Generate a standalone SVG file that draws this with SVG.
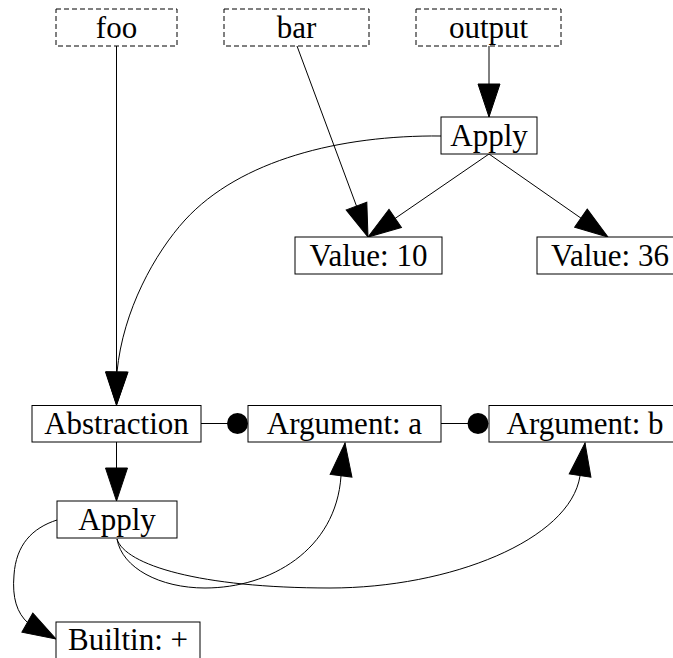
<svg xmlns="http://www.w3.org/2000/svg" width="673" height="658" viewBox="0 0 673 658">
<style>
  .box { fill: #fff; stroke: #000; stroke-width: 1; }
  .dash { fill: #fff; stroke: #000; stroke-width: 1; stroke-dasharray: 5,3; }
  .lbl { font-family: "Liberation Serif", "Times New Roman", serif; font-size: 31px; fill: #000; text-anchor: middle; }
  .edge { fill: none; stroke: #000; stroke-width: 1; }
  .arr { marker-end: url(#ah); }
</style>
<defs>
  <marker id="ah" markerUnits="userSpaceOnUse" markerWidth="36" markerHeight="26" viewBox="0 -13 36 26" refX="33" refY="0" orient="auto" overflow="visible">
    <path d="M0,-11 L33,0 L0,11 z" fill="#000" stroke="#000" stroke-width="1"/>
  </marker>
</defs>
<rect width="673" height="658" fill="#fff"/>

<g id="connectors">
  <path class="edge arr" d="M116.5,46 L116.5,405"/>
  <path class="edge arr" d="M297,46 L368,237"/>
  <path class="edge arr" d="M489,46 L489,117"/>
  <path class="edge arr" d="M489,154 L368,237"/>
  <path class="edge arr" d="M489,154 L608,237"/>
  <path class="edge arr" d="M441,136 C 340,135 240,160 185,220 C 155,253 123,310 117,372 L116.5,405"/>
  <path class="edge arr" d="M116.5,442 L116.5,501"/>
  <path class="edge" d="M201,423.5 L228,423.5"/>
  <path class="edge" d="M211,423.5 L228,423.5" stroke-width="2"/>
  <circle cx="237.5" cy="423.5" r="10.5" fill="#000"/>
  <path class="edge" d="M441,423.5 L468,423.5"/>
  <path class="edge" d="M451,423.5 L468,423.5" stroke-width="2"/>
  <circle cx="478" cy="423.5" r="10.5" fill="#000"/>
  <path class="edge arr" d="M57,520 C 32,528 16,545 14,575 C 12,598 17,613 28,623 L56,639"/>
  <path class="edge arr" d="M117,539 C 122,568 160,588 205,588 C 270,588 336,550 341,476 L345,443"/>
  <path class="edge arr" d="M117,539 C 125,565 200,588 330,588 C 450,588 570,540 580,476 L585,443"/>
</g>

<g id="foo"><rect class="dash" x="56" y="9" width="121" height="37"/><text class="lbl" x="116.5" y="38">foo</text></g>
<g id="bar"><rect class="dash" x="224" y="9" width="145" height="37"/><text class="lbl" x="296.5" y="38">bar</text></g>
<g id="output"><rect class="dash" x="416" y="9" width="145" height="37"/><text class="lbl" x="488.5" y="38">output</text></g>
<g id="apply1"><rect class="box" x="441" y="117" width="96" height="37"/><text class="lbl" x="489" y="146">Apply</text></g>
<g id="value10"><rect class="box" x="295" y="237" width="147" height="37"/><text class="lbl" x="368.5" y="266">Value: 10</text></g>
<g id="value36"><rect class="box" x="537" y="237" width="147" height="37"/><text class="lbl" x="610" y="266">Value: 36</text></g>
<g id="abstraction"><rect class="box" x="32" y="405.5" width="169" height="36.5"/><text class="lbl" x="116.5" y="434">Abstraction</text></g>
<g id="argA"><rect class="box" x="248" y="405.5" width="193" height="36.5"/><text class="lbl" x="344.5" y="434">Argument: a</text></g>
<g id="argB"><rect class="box" x="489" y="405.5" width="193" height="36.5"/><text class="lbl" x="585" y="434">Argument: b</text></g>
<g id="apply2"><rect class="box" x="57" y="501" width="120" height="37"/><text class="lbl" x="117" y="530">Apply</text></g>
<g id="builtin"><rect class="box" x="56" y="622" width="144" height="37"/><text class="lbl" x="128" y="650">Builtin: +</text></g>
</svg>
